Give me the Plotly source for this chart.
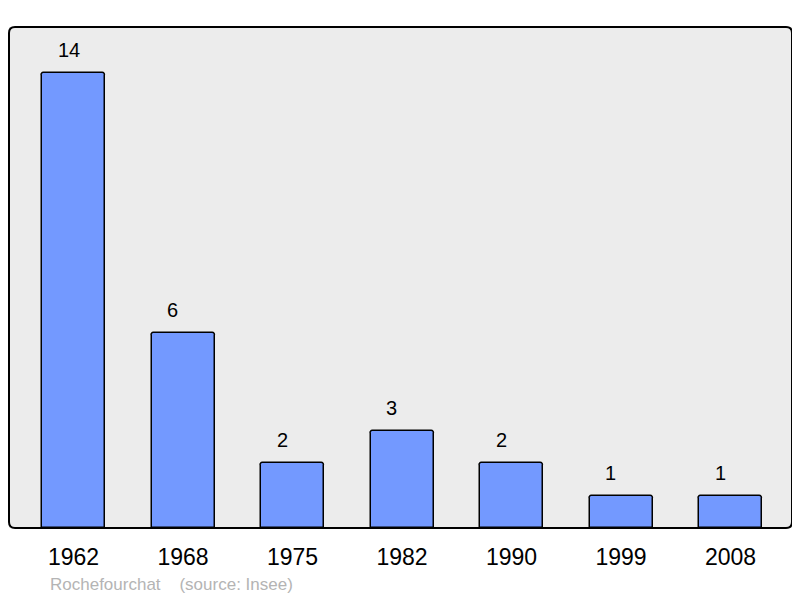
import plotly.graph_objects as go

years = ["1962", "1968", "1975", "1982", "1990", "1999", "2008"]
values = [14, 6, 2, 3, 2, 1, 1]
footer = "Rochefourchat    (source: Insee)"

fig = go.Figure()
fig.add_trace(go.Bar(
    x=list(range(len(years))), y=values, width=0.575,
    marker=dict(color="#7399ff", line=dict(color="#000000", width=1.5), cornerradius=3),
    hoverinfo="skip",
))

for i, v in enumerate(values):
    fig.add_annotation(x=i, y=v, text=str(v), showarrow=False, yanchor="bottom",
                       xanchor="left", xshift=-18, yshift=10,
                       font=dict(size=20, color="#000000", family="Liberation Sans"))

fig.add_annotation(xref="paper", yref="paper", x=(48 - 9) / 783, y=-(584 - 528) / 501,
                   xanchor="left", yanchor="middle", text=footer, showarrow=False,
                   font=dict(size=17, color="#b4b4b4", family="Liberation Sans"))

rx, ry = 6 / 783, 6 / 501
path = (f"M {rx},0 L {1-rx},0 Q 1,0 1,{ry} L 1,{1-ry} Q 1,1 {1-rx},1 "
        f"L {rx},1 Q 0,1 0,{1-ry} L 0,{ry} Q 0,0 {rx},0 Z")
fig.add_shape(type="path", xref="paper", yref="paper", path=path,
              line=dict(color="#000000", width=2), layer="above")

fig.update_layout(
    width=800, height=598,
    margin=dict(l=1, r=16, t=19, b=78),
    paper_bgcolor="#ffffff", plot_bgcolor="#ececec",
    showlegend=False, bargap=0,
    font=dict(family="Liberation Sans", color="#000000"),
    xaxis=dict(range=[-0.589, 6.561], tickmode="array", tickvals=list(range(len(years))),
               ticktext=years, tickfont=dict(size=23), showgrid=False, zeroline=False,
               ticks="outside", ticklen=8, tickcolor="rgba(0,0,0,0)", fixedrange=True),
    yaxis=dict(range=[0, 15.42], showticklabels=False, showgrid=False, zeroline=False,
               fixedrange=True),
)

fig.write_html("out.html")
